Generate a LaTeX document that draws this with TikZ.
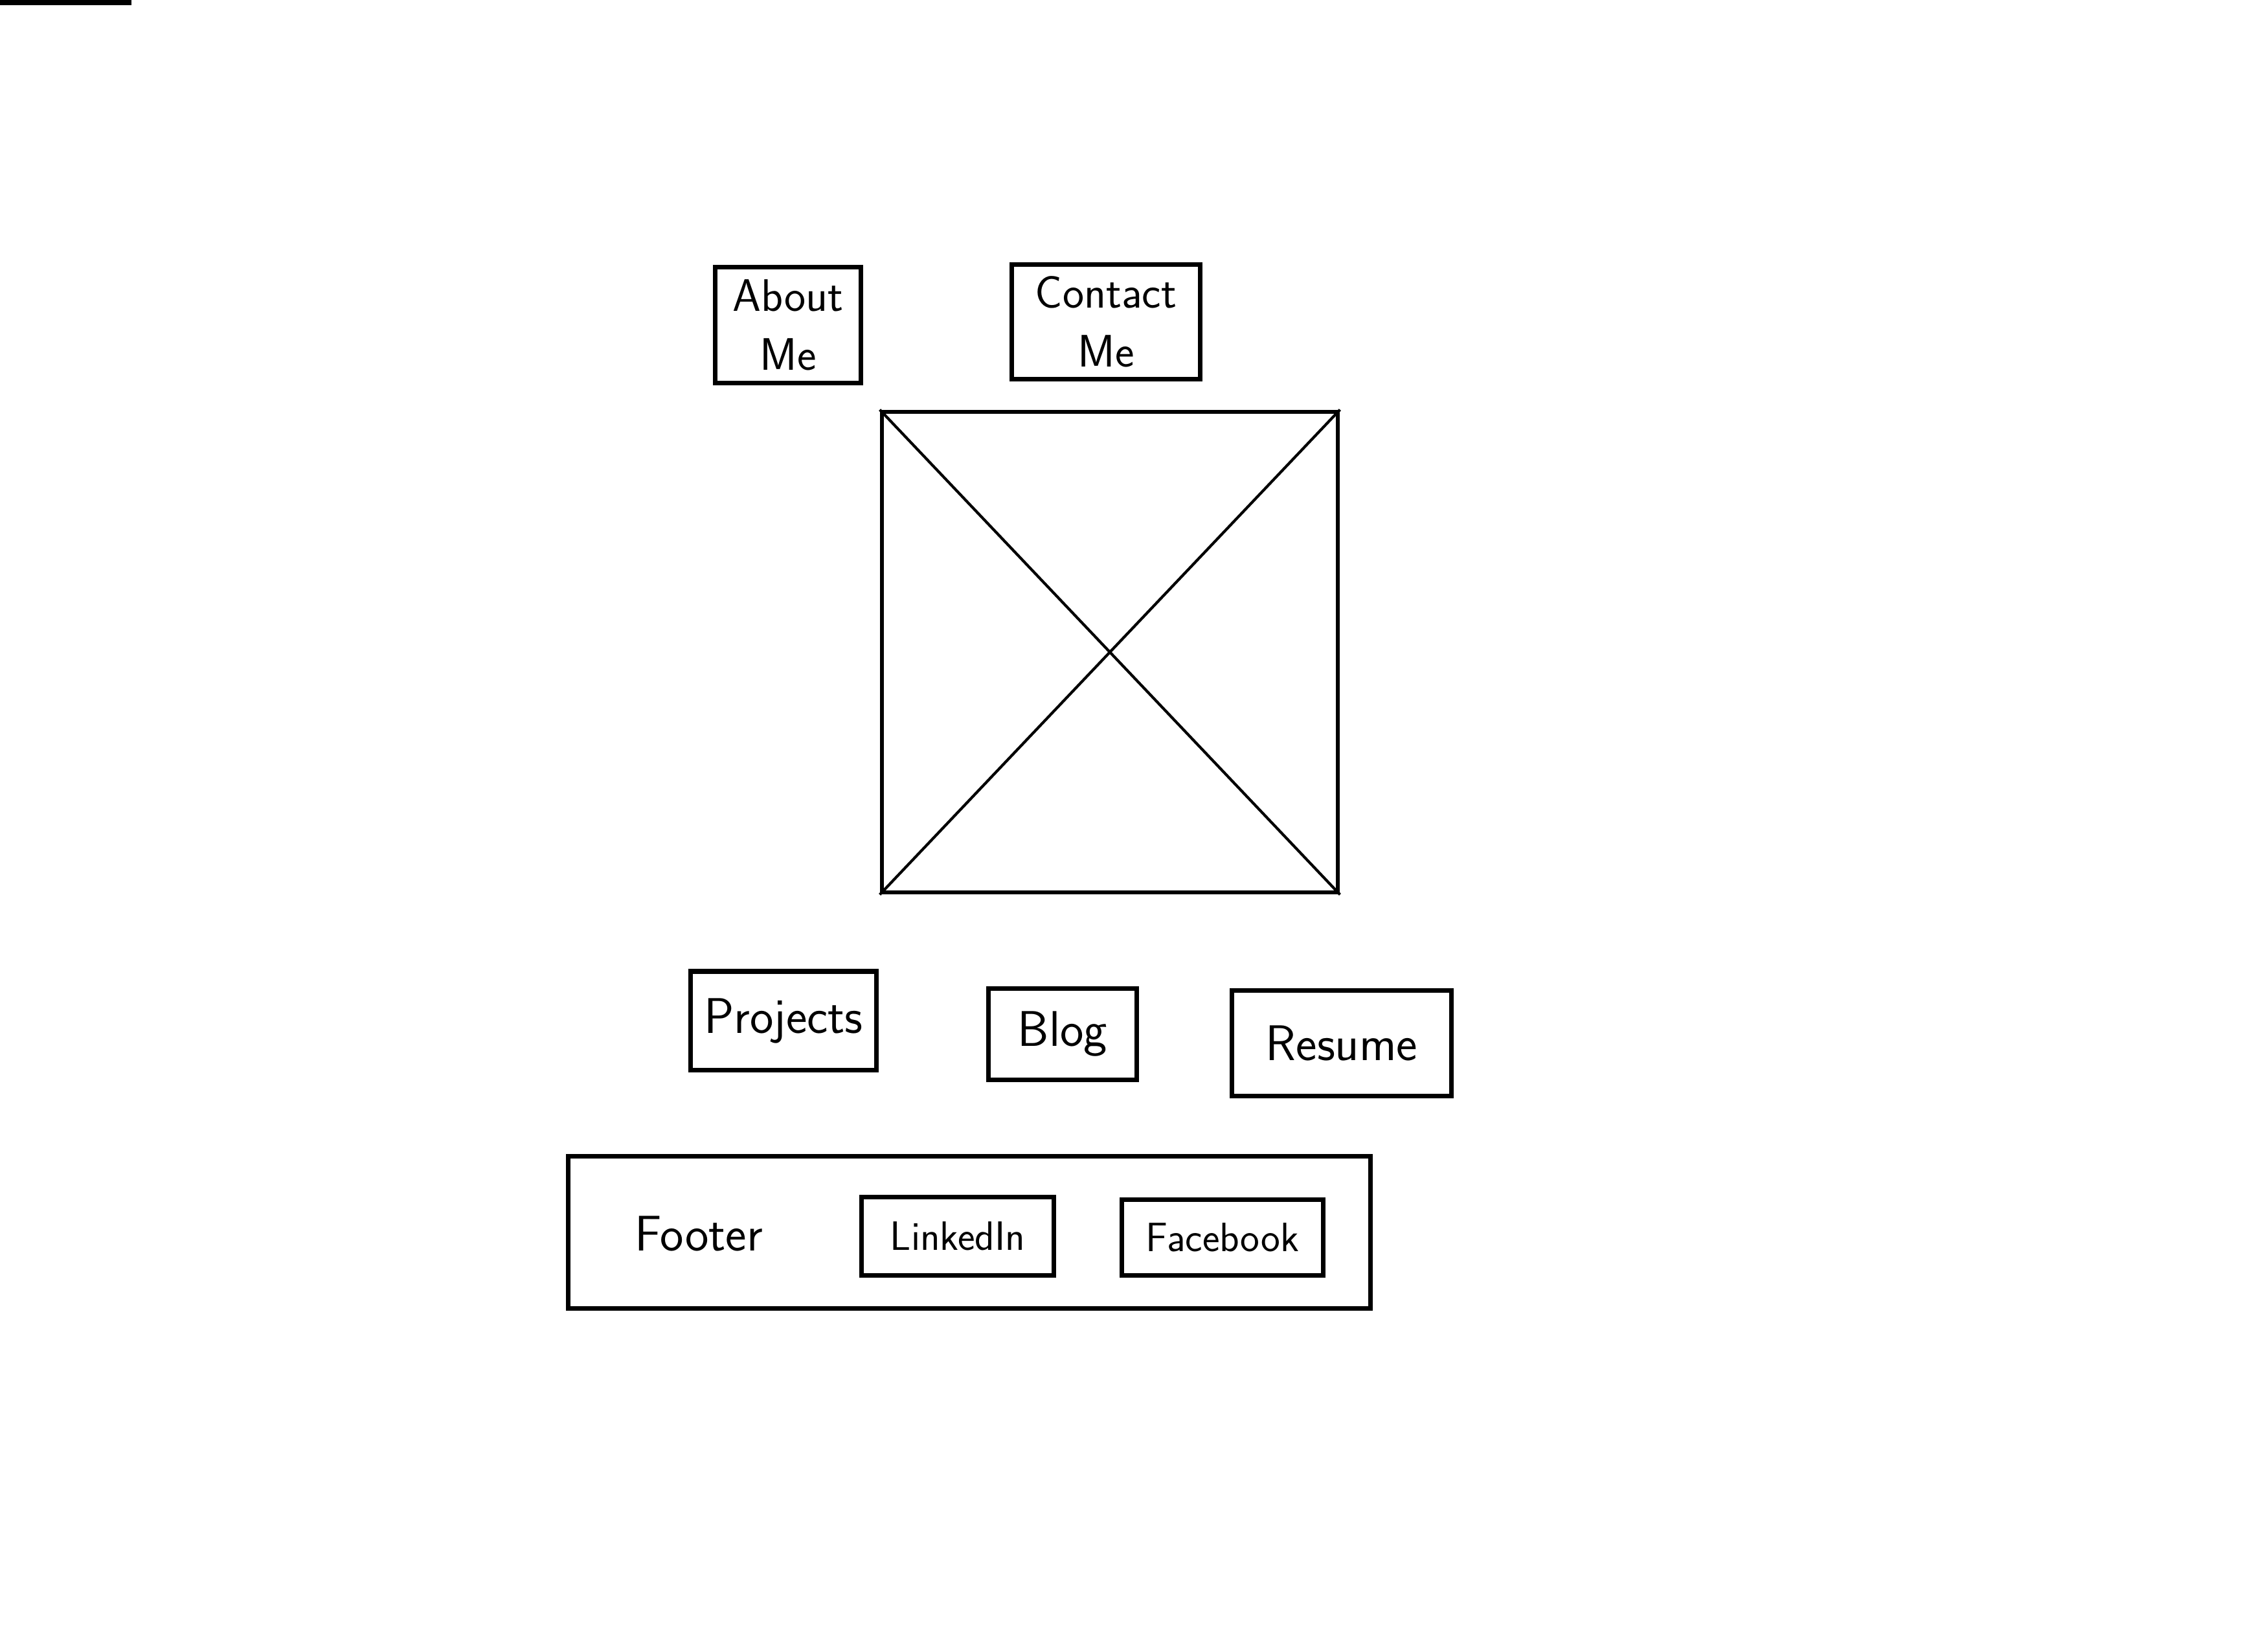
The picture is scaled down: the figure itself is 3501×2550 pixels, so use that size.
\documentclass[tikz,border=0pt]{standalone}
\usepackage{fontspec}
\begin{document}
\begin{tikzpicture}
		[x=0.01cm, y=-0.01cm,
		btn/.style={
			rectangle,
			draw,
			line width=2pt,
			inner sep=0pt,
			align=center,
			font=\sffamily\fontsize{22}{30}\selectfont
		},
		twoline/.style={btn, font=\sffamily\fontsize{20}{26}\selectfont},
		smallbtn/.style={btn, font=\sffamily\fontsize{18}{22}\selectfont},
		picbox/.style={rectangle, draw, line width=1.8pt, minimum width=7.04cm, minimum height=7.42cm},
		cross/.style={line width=1.2pt}]
		\useasboundingbox (0,0) rectangle (3501,2550);
		\fill (0,0) rectangle (203,8);
		% header links
		\node[twoline, minimum width=2.24cm, minimum height=1.79cm] (about) at (1217,502) {About\\Me};
		\node[twoline, minimum width=2.9cm, minimum height=1.76cm] (contact) at (1708,497) {Contact\\Me};
		% picture placeholder
		\node[picbox] (pic) at (1714,1007) {};
		\draw[cross] (pic.north west) -- (pic.south east);
		\draw[cross] (pic.south west) -- (pic.north east);
		% page links
		\node[btn, minimum width=2.86cm, minimum height=1.52cm] (projects) at (1210,1576) {Projects};
		\node[btn, minimum width=2.28cm, minimum height=1.41cm] (blog) at (1641,1597) {Blog};
		\node[btn, minimum width=3.39cm, minimum height=1.63cm] (resume) at (2072,1611) {Resume};
		% footer
		\node[btn, minimum width=12.39cm, minimum height=2.35cm] (footer) at (1497,1903) {};
		\node[font=\sffamily\fontsize{22}{26}\selectfont] (footerlbl) at (1079,1905) {Footer};
		\node[smallbtn, minimum width=2.97cm, minimum height=1.21cm] (linkedin) at (1479,1909) {LinkedIn};
		\node[smallbtn, minimum width=3.1cm, minimum height=1.17cm] (facebook) at (1888,1911) {Facebook};
\end{tikzpicture}
\end{document}
